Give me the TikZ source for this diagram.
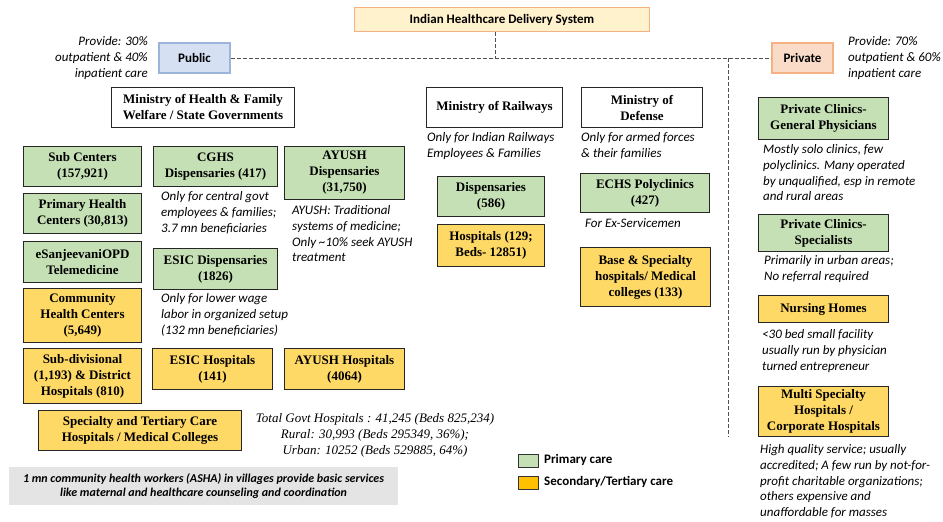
\documentclass[tikz,border=0pt]{standalone}
\usepackage{fontspec}
\setmainfont{Liberation Serif}
\newfontfamily\calfont{Carlito}
\definecolor{primfill}{HTML}{C5E0B4}
\definecolor{secfill}{HTML}{FFD966}
\definecolor{legsec}{HTML}{FFC000}
\definecolor{titlefill}{HTML}{FFF2CC}
\definecolor{titleline}{HTML}{F4B183}
\definecolor{pubfill}{HTML}{D5E0F2}
\definecolor{publine}{HTML}{9CB3DA}
\definecolor{privfill}{HTML}{FADBC8}
\definecolor{ashafill}{HTML}{E4E4E4}
\definecolor{dashline}{HTML}{505050}
\def\boxfont{\fontsize{13}{16}\selectfont\bfseries}
\def\notefont{\calfont\itshape\fontsize{13}{15.7}\selectfont}
\def\headfont{\calfont\bfseries\fontsize{13}{15}\selectfont}

\begin{document}
\begin{tikzpicture}[x=1pt,y=-1pt,
  mybox/.style={draw=black!85,line width=1.5pt,font=\boxfont,align=center,inner sep=1pt},
  prim/.style={mybox,fill=primfill},
  sec/.style={mybox,fill=secfill},
  mini/.style={mybox,fill=white},
  wh/.style 2 args={minimum width=#1pt,minimum height=#2pt},
  note/.style={font=\notefont,align=left,anchor=north west,inner sep=0pt},
  dashln/.style={draw=dashline,line width=1pt,dash pattern=on 3.5pt off 2.5pt}]
\useasboundingbox (0,0) rectangle (943,522);

\node[fill=titlefill,draw=titleline,line width=1pt,wh={295}{24},font=\headfont] (title) at (502,19.5) {Indian Healthcare Delivery System};
\node[fill=pubfill,draw=publine,line width=2pt,wh={71}{30},font=\headfont] (pub) at (194.5,58) {Public};
\node[fill=privfill,draw=titleline,line width=2pt,wh={61}{30},font=\headfont] (priv) at (802.5,58) {Private};
\coordinate (hub) at (495,58);
\coordinate (div) at (728,58);
\coordinate (divend) at (728,437);
\draw[dashln] (pub) -- (priv);
\draw[dashln] (hub |- title.south) -- (hub);
\draw[dashln] (div) -- (divend);
\node[note,anchor=north east,align=right] (pubnote) at (148,36.5) {Provide: 30\%\\outpatient \& 40\%\\inpatient care};
\node[note] (privnote) at (848,36.5) {Provide: 70\%\\outpatient \& 60\%\\inpatient care};

\node[mini,wh={183}{40}] (mohfw) at (203,107.5) {Ministry of Health \& Family\\Welfare / State Governments};
\node[mini,wh={136}{40}] (mor) at (494.5,107.5) {Ministry of Railways};
\node[mini,wh={121}{40}] (mod) at (642,107.5) {Ministry of\\Defense};

\foreach \n/\y/\h/\txt in {sc/166.5/40/{Sub Centers\\(157,921)},
    phc/213.5/40/{Primary Health\\Centers (30,813)},
    esan/262/41/{eSanjeevaniOPD\\Telemedicine}}{
  \node[prim,wh={118}{\h}] (\n) at (82.5,\y) {\txt};
}
\node[sec,wh={118}{54}] (chc) at (82.5,315.5) {Community\\Health Centers\\(5,649)};
\node[sec,wh={118}{55}] (sdh) at (82.5,376) {Sub-divisional\\(1,193) \& District\\Hospitals (810)};
\node[sec,wh={203}{40}] (stc) at (140,430.5) {Specialty and Tertiary Care\\Hospitals / Medical Colleges};

\node[prim,wh={124}{40}] (cghs) at (215.5,166.5) {CGHS\\Dispensaries (417)};
\node[note] (cghsnote) at (161,191.5) {Only for central govt\\employees \& families;\\3.7 mn beneficiaries};
\node[prim,wh={124}{41}] (esicd) at (215.5,269) {ESIC Dispensaries\\(1826)};
\node[note] (esicnote) at (161,293.5) {Only for lower wage\\labor in organized setup\\(132 mn beneficiaries)};
\node[sec,wh={120}{41}] (esich) at (212.5,369) {ESIC Hospitals\\(141)};
\node[prim,wh={120}{53}] (ayd) at (344.5,173) {AYUSH\\Dispensaries\\(31,750)};
\node[note] (aynote) at (292,205.5) {AYUSH: Traditional\\systems of medicine;\\Only \textasciitilde10\% seek AYUSH\\treatment};
\node[sec,wh={120}{41}] (ayh) at (344.5,369) {AYUSH Hospitals\\(4064)};

\node[note] (rlnote) at (427,132.5) {Only for Indian Railways\\Employees \& Families};
\node[prim,wh={107}{40}] (rld) at (491,196.5) {Dispensaries\\(586)};
\node[sec,wh={107}{42}] (rlh) at (491,245.5) {Hospitals (129;\\Beds- 12851)};
\node[note] (dfnote) at (581,132.5) {Only for armed forces\\\& their families};
\node[prim,wh={129}{39}] (echs) at (645,193) {ECHS Polyclinics\\(427)};
\node[note] (exnote) at (585,218.5) {For Ex-Servicemen};
\node[sec,wh={130}{59}] (base) at (645.5,277) {Base \& Specialty\\hospitals/ Medical\\colleges (133)};

\node[prim,wh={130}{42}] (pcgp) at (823.5,118.5) {Private Clinics-\\General Physicians};
\node[note] (gpnote) at (763,144.5) {Mostly solo clinics, few\\polyclinics. Many operated\\by unqualified, esp in remote\\and rural areas};
\node[prim,wh={130}{37}] (pcsp) at (823.5,233) {Private Clinics-\\Specialists};
\node[note] (spnote) at (764,255.5) {Primarily in urban areas;\\No referral required};
\node[sec,wh={130}{27}] (nh) at (823.5,309) {Nursing Homes};
\node[note] (nhnote) at (762,329.5) {<30 bed small facility\\usually run by physician\\turned entrepreneur};
\node[sec,wh={130}{50}] (msh) at (823.5,411.5) {Multi Specialty\\Hospitals /\\Corporate Hospitals};
\node[note] (mshnote) at (760,444.5) {High quality service; usually\\accredited; A few run by not-for-\\profit charitable organizations;\\others expensive and\\unaffordable for masses};

\node[font=\itshape\fontsize{13}{16}\selectfont,align=center,anchor=north,inner sep=0pt] (tot) at (375,413.5) {Total Govt Hospitals : 41,245 (Beds 825,234)\\Rural: 30,993 (Beds 295349, 36\%);\\Urban: 10252 (Beds 529885, 64\%)};
\node[fill=ashafill,wh={389}{38},font=\calfont\bfseries\itshape\fontsize{12}{14}\selectfont,align=center] (asha) at (203.5,486) {1 mn community health workers (ASHA) in villages provide basic services\\like maternal and healthcare counseling and coordination};

\node[draw=black!80,line width=0.8pt,fill=primfill,wh={20}{13},inner sep=0pt] (lgp) at (528.5,460.5) {};
\node[font=\headfont,anchor=west,inner sep=0pt] (lgptxt) at (544,459.5) {Primary care};
\node[draw=black!80,line width=0.8pt,fill=legsec,wh={20}{13},inner sep=0pt] (lgs) at (528.5,482.5) {};
\node[font=\headfont,anchor=west,inner sep=0pt] (lgstxt) at (544,481.5) {Secondary/Tertiary care};
\end{tikzpicture}
\end{document}
